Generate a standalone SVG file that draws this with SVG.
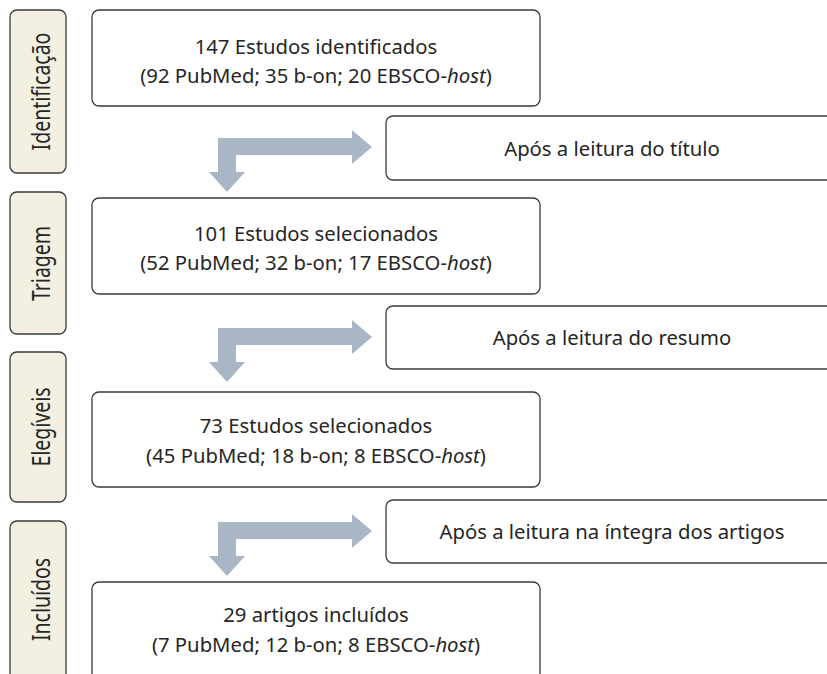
<svg xmlns="http://www.w3.org/2000/svg" width="827" height="674" viewBox="0 0 827 674">
<style>
.side{fill:#f3f0e2;stroke:#3a3a3a;stroke-width:1.3}
.box{fill:#ffffff;stroke:#3a3a3a;stroke-width:1.3}
.t{font-family:"Noto Sans","Open Sans","Liberation Sans",sans-serif;font-size:20.3px;fill:#262626;text-anchor:middle}
.s{font-family:"Noto Sans","Open Sans","Liberation Sans",sans-serif;font-size:19.5px;fill:#262626;text-anchor:middle}
.arr{fill:#a9b6c5}
</style>
<rect width="827" height="674" fill="#ffffff"/>
<g id="stage-identificacao">
<rect class="side" x="10" y="10" width="56" height="163" rx="7"/>
<text class="s" transform="translate(50,91.5) rotate(-90) scale(1,1.3)">Identificação</text>
</g>
<g id="stage-triagem">
<rect class="side" x="10" y="192" width="56" height="142" rx="7"/>
<text class="s" transform="translate(50,263.5) rotate(-90) scale(1,1.3)">Triagem</text>
</g>
<g id="stage-elegiveis">
<rect class="side" x="10" y="352" width="56" height="150" rx="7"/>
<text class="s" transform="translate(50,427) rotate(-90) scale(1,1.3)">Elegíveis</text>
</g>
<g id="stage-incluidos">
<rect class="side" x="10" y="521" width="56" height="163" rx="7"/>
<text class="s" transform="translate(50,599.5) rotate(-90) scale(1,1.3)">Incluídos</text>
</g>
<g id="n1">
<rect class="box" x="92" y="10" width="448" height="96" rx="7"/>
<text class="t" x="316" y="54">147 Estudos identificados</text>
<text class="t" x="316" y="83">(92 PubMed; 35 b-on; 20 EBSCO-<tspan font-style="italic">host</tspan>)</text>
</g>
<g id="n2">
<rect class="box" x="92" y="198" width="448" height="96" rx="7"/>
<text class="t" x="316" y="241">101 Estudos selecionados</text>
<text class="t" x="316" y="270">(52 PubMed; 32 b-on; 17 EBSCO-<tspan font-style="italic">host</tspan>)</text>
</g>
<g id="n3">
<rect class="box" x="92" y="392" width="448" height="95" rx="7"/>
<text class="t" x="316" y="433">73 Estudos selecionados</text>
<text class="t" x="316" y="463">(45 PubMed; 18 b-on; 8 EBSCO-<tspan font-style="italic">host</tspan>)</text>
</g>
<g id="n4">
<rect class="box" x="92" y="582" width="448" height="110" rx="7"/>
<text class="t" x="316" y="622">29 artigos incluídos</text>
<text class="t" x="316" y="652">(7 PubMed; 12 b-on; 8 EBSCO-<tspan font-style="italic">host</tspan>)</text>
</g>
<g id="r1">
<rect class="box" x="386" y="116" width="460" height="64" rx="7"/>
<text class="t" x="612" y="156">Após a leitura do título</text>
</g>
<g id="r2">
<rect class="box" x="386" y="306" width="460" height="63" rx="7"/>
<text class="t" x="612" y="345">Após a leitura do resumo</text>
</g>
<g id="r3">
<rect class="box" x="386" y="500" width="460" height="63" rx="7"/>
<text class="t" x="612" y="539">Após a leitura na íntegra dos artigos</text>
</g>
<g id="connectors">
<path class="arr" d="M218,138 H352 V130 L372,147 L352,164 V155 H236 V172 H245 L227,192 L209,172 H218 Z"/>
<path class="arr" d="M218,328 H352 V320 L372,337 L352,354 V345 H236 V362 H245 L227,382 L209,362 H218 Z"/>
<path class="arr" d="M218,522 H352 V514 L372,531 L352,548 V539 H236 V556 H245 L227,576 L209,556 H218 Z"/>
</g>
</svg>
